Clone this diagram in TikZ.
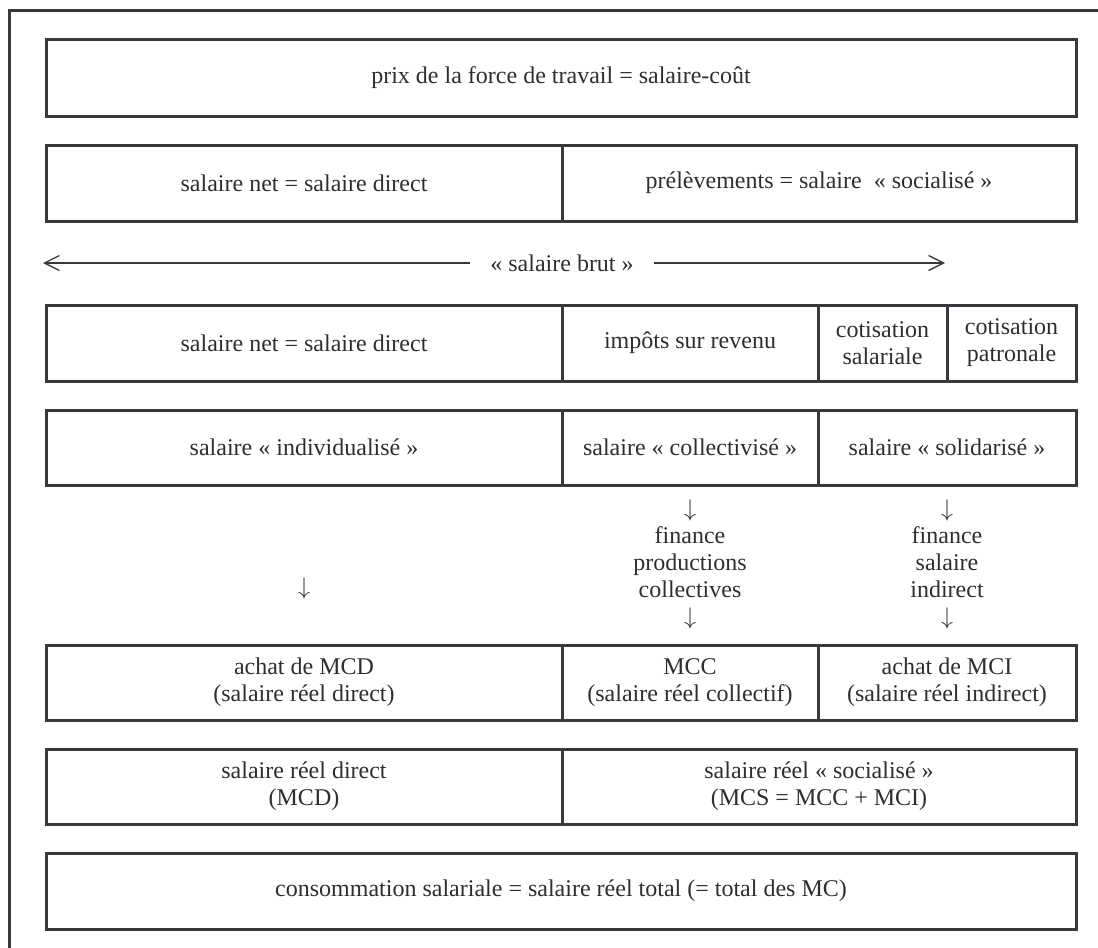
\documentclass[tikz,border=0pt]{standalone}
\usepackage{fontspec}
\setmainfont{Liberation Serif}
\usetikzlibrary{arrows.meta}
\definecolor{linec}{HTML}{38383D}
\definecolor{textc}{HTML}{2E2E2E}
\tikzset{
  cell/.style={draw=linec, line width=1.5pt, rectangle, inner sep=0pt, outer sep=0pt,
    align=center, text=textc, font=\fontsize{12}{13.5}\selectfont},
  plain/.style={inner sep=0pt, align=center, text=textc, font=\fontsize{12}{13.5}\selectfont},
  frame/.style={draw=linec, line width=1.6pt},
  brutarrow/.style={draw=linec, line width=0.65pt, -{Straight Barb[length=7.5pt,width=7.5pt,line width=0.65pt]}},
}
\newcommand\mycell[6]{\node[cell, minimum width={(#3-#2)*0.5pt}, minimum height={(#5-#4)*0.5pt}] (#1) at ({(#2+#3)/2},{(#4+#5)/2}) {#6};}
\newcommand\dn{$\downarrow$}
\begin{document}
\begin{tikzpicture}[x={(0.5pt,0)}, y={(0,-0.5pt)}]
\useasboundingbox (0,0) rectangle (1098,948);
% outer frame (open on right and bottom)
\coordinate (fr1) at (1098,10.5);
\coordinate (fr0) at (9.5,10.5);
\coordinate (fr2) at (9.5,948);
\draw[frame] (fr1) -- (fr0) -- (fr2);
% row 1
\mycell{r1}{46}{1076}{39}{116}{prix de la force de travail = salaire-coût}
% row 2
\mycell{r2a}{46}{562}{145}{221}{salaire net = salaire direct}
\mycell{r2b}{562}{1076}{145}{221}{prélèvements = salaire~ « socialisé »}
% salaire brut arrow
\node[plain, inner xsep=10pt, inner ysep=2pt] (brut) at (562,263) {« salaire brut »};
\coordinate (bl) at (43,263);
\coordinate (br) at (945,263);
\draw[brutarrow] (brut.west) -- (bl);
\draw[brutarrow] (brut.east) -- (br);
% row 3
\mycell{r3a}{46}{562}{305}{381}{salaire net = salaire direct}
\mycell{r3b}{562}{818}{305}{381}{impôts sur revenu}
\mycell{r3c}{818}{947}{305}{381}{cotisation\\salariale}
\mycell{r3d}{947}{1076}{305}{381}{cotisation\\patronale}
% row 4
\mycell{r4a}{46}{562}{410}{485}{salaire « individualisé »}
\mycell{r4b}{562}{818}{410}{485}{salaire « collectivisé »}
\mycell{r4c}{818}{1076}{410}{485}{salaire « solidarisé »}
% middle flow texts
\node[plain] (m1) at (304,588) {\dn};
\node[plain] (m2) at (690,564) {\dn\\finance\\productions\\collectives\\\dn};
\node[plain] (m3) at (947,564) {\dn\\finance\\salaire\\indirect\\\dn};
% row 5
\mycell{r5a}{46}{562}{645}{720}{achat de MCD\\(salaire réel direct)}
\mycell{r5b}{562}{818}{645}{720}{MCC\\(salaire réel collectif)}
\mycell{r5c}{818}{1076}{645}{720}{achat de MCI\\(salaire réel indirect)}
% row 6
\mycell{r6a}{46}{562}{749}{824}{salaire réel direct\\(MCD)}
\mycell{r6b}{562}{1076}{749}{824}{salaire réel « socialisé »\\(MCS = MCC + MCI)}
% row 7
\mycell{r7}{46}{1076}{853}{929}{consommation salariale = salaire réel total (= total des MC)}
\end{tikzpicture}
\end{document}
